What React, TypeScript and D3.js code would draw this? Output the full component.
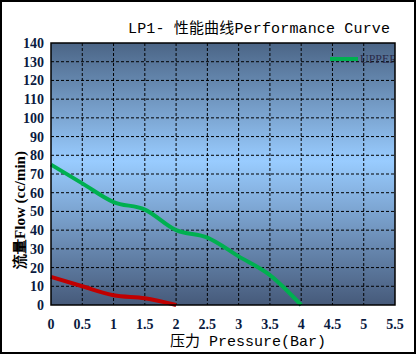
import React from "react";
import * as d3 from "d3";

const xTicks = [0, 0.5, 1, 1.5, 2, 2.5, 3, 3.5, 4, 4.5, 5, 5.5];
const yTicks = [0, 10, 20, 30, 40, 50, 60, 70, 80, 90, 100, 110, 120, 130, 140];
const upperPressure = [0, 0.5, 1, 1.5, 2, 2.5, 3, 3.5, 4];
const upperFlow = [75, 65, 55, 51, 40, 36, 26, 16, 0];
const lowerPressure = [0, 0.5, 1, 1.5, 2];
const lowerFlow = [15, 10, 5.2, 3.6, 0];
const title = "LP1- 性能曲线Performance Curve";
const xTitle = "压力 Pressure(Bar)";
const yTitle = "流量Flow (cc/min)";
const legendLabel = "UPPER";

export default function App() {
  const W = 417, H = 355;
  const L = 51, R = 395, T = 43, B = 305;
  const x = d3.scaleLinear().domain([0, 5.5]).range([L, R]);
  const y = d3.scaleLinear().domain([0, 140]).range([B, T]);
  const line = d3
    .line<[number, number]>()
    .x((d) => x(d[0]))
    .y((d) => y(d[1]))
    .curve(d3.curveMonotoneX);
  const upper = upperPressure.map((p, i) => [p, upperFlow[i]] as [number, number]);
  const lower = lowerPressure.map((p, i) => [p, lowerFlow[i]] as [number, number]);
  const serif = "'Liberation Serif', 'Times New Roman', serif";
  const mono = "'Liberation Mono', 'Noto Sans CJK SC', monospace";
  return (
    <svg width={W} height={H} style={{ position: "absolute", left: 0, top: 0 }}>
      <defs>
        <linearGradient id="bg" x1="0" y1="0" x2="0" y2="1">
          <stop offset="0" stopColor="#4b6586" />
          <stop offset="0.45" stopColor="#99ccff" />
          <stop offset="1" stopColor="#465a7a" />
        </linearGradient>
        <clipPath id="plotclip">
          <rect x={L} y={T} width={R - L} height={B - T} />
        </clipPath>
      </defs>
      <rect x={0} y={0} width={W} height={H} fill="#fff" />
      <rect x={1} y={1} width={W - 3} height={H - 3} fill="none" stroke="#000" strokeWidth={2} />
      <text x={128} y={33} fontFamily={mono} fontSize={15} textLength={262} lengthAdjust="spacing" fill="#000">
        {title}
      </text>
      <rect x={L} y={T} width={R - L} height={B - T} fill="url(#bg)" />
      {xTicks.slice(1, -1).map((t) => (
        <line key={"gx" + t} x1={x(t)} x2={x(t)} y1={T} y2={B} stroke="#000" strokeWidth={1} strokeDasharray="3,2" />
      ))}
      {yTicks.slice(1, -1).map((t) => (
        <line key={"gy" + t} x1={L} x2={R} y1={y(t)} y2={y(t)} stroke="#000" strokeWidth={1} strokeDasharray="3,2" />
      ))}
      <path d={line(upper) || ""} fill="none" stroke="#00b050" strokeWidth={4} />
      <path d={line(lower) || ""} fill="none" stroke="#c00000" strokeWidth={4} />
      <g clipPath="url(#plotclip)">
        <line x1={330} x2={358} y1={59} y2={59} stroke="#00b050" strokeWidth={4} />
        <text x={360} y={63} fontFamily={serif} fontSize={12} fill="#2a2a48">
          {legendLabel}
        </text>
      </g>
      <rect x={L} y={T} width={R - L} height={B - T} fill="none" stroke="#000" strokeWidth={1.5} />
      {yTicks.map((t) => (
        <text key={"yt" + t} x={44} y={y(t) + 5} textAnchor="end" fontFamily={serif} fontWeight="bold" fontSize={14} fill="#0a1a40">
          {t}
        </text>
      ))}
      {xTicks.map((t) => (
        <text key={"xt" + t} x={x(t)} y={329} textAnchor="middle" fontFamily={serif} fontWeight="bold" fontSize={14} fill="#0a1a40">
          {t}
        </text>
      ))}
      <text x={248} y={346} textAnchor="middle" fontFamily={mono} fontSize={15} fill="#000">
        {xTitle}
      </text>
      <text
        transform={`translate(25,210) rotate(-90)`}
        textAnchor="middle"
        fontFamily={serif}
        fontWeight="bold"
        fontSize={15}
        fill="#000"
      >
        {yTitle}
      </text>
    </svg>
  );
}
